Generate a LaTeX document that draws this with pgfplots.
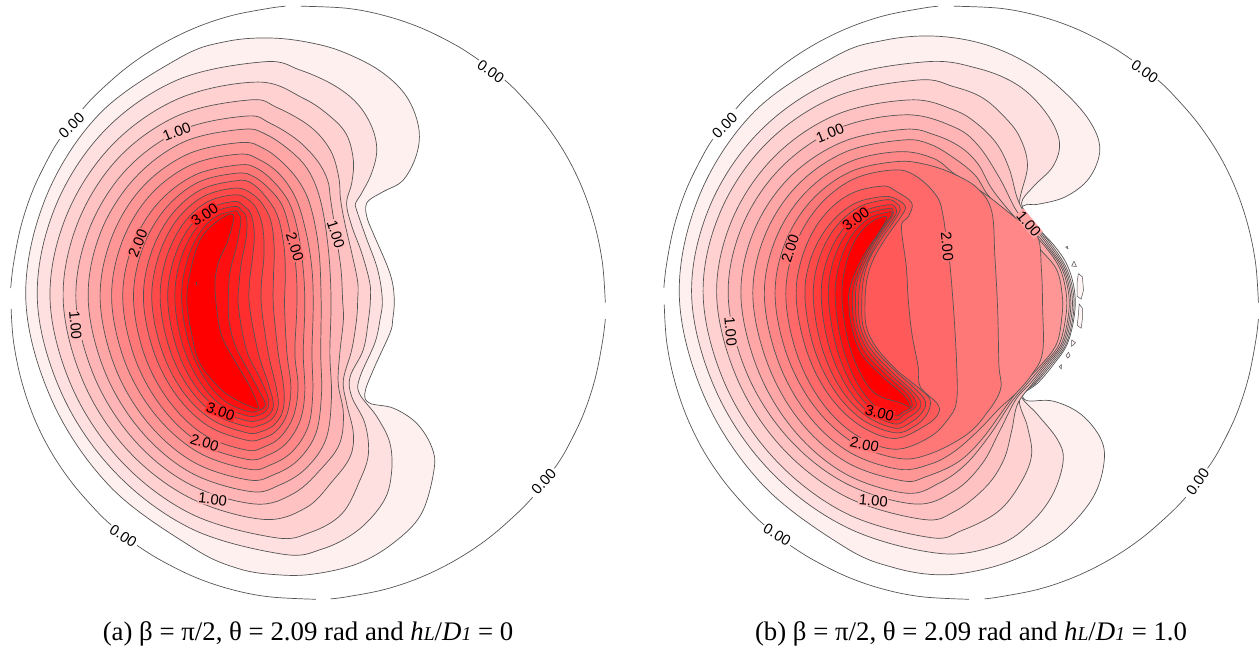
\documentclass[border=0pt]{standalone}
\usepackage{pgfplots}
\usepackage{fontspec}
\pgfplotsset{compat=1.18}
\setmainfont{Liberation Serif}
\newfontfamily\labfont{Liberation Sans}
\definecolor{cl}{gray}{0.33}
\pgfplotsset{panel/.style={hide axis,clip=false,scale only axis,width=310pt,height=324.5pt,
  xmin=0,xmax=1560,ymin=0,ymax=1566,y dir=reverse,anchor=south west}}
\tikzset{lab/.style={font=\labfont\fontsize{7.4}{8}\selectfont,inner sep=0.3pt,text=black}}
\newcommand\lev[2]{\addplot[line width=0.35pt,draw=cl,fill=red!#1!white,smooth cycle,tension=0.6] coordinates {#2};}
\newcommand\seg[1]{\addplot[line width=0.35pt,draw=cl,smooth,tension=0.6] coordinates {#1};}
\newcommand\isl[1]{\addplot[line width=0.25pt,draw=cl,fill=red!4!white,sharp plot] coordinates {#1};}
\newcommand\lb[4]{\node[lab,fill=#1,rotate=#2] at (axis cs:#3) {#4};}
\begin{document}
\begin{tikzpicture}
\path[use as bounding box] (0,0) rectangle (630pt,324.5pt);
\begin{axis}[panel,at={(0pt,0pt)}]
\seg{(757,15)(873,20)(969,38)(1061,68)(1149,110)(1205,145)}
\seg{(1270,193)(1304,224)(1368,294)(1423,372)(1466,456)(1497,545)(1516,636)(1523,730)}
\seg{(1523,770)(1516,824)(1497,915)(1466,1004)(1423,1088)(1395,1130)}
\seg{(1340,1200)(1304,1236)(1230,1298)(1149,1350)(1061,1392)(969,1422)(873,1440)(832,1445)}
\seg{(795,1446)(677,1440)(581,1422)(489,1392)(401,1350)(345,1316)}
\seg{(280,1267)(246,1236)(182,1166)(127,1088)(84,1004)(53,915)(34,824)(28,745)}
\seg{(27,695)(34,636)(53,545)(84,456)(127,372)(150,336)}
\seg{(208,263)(246,224)(320,162)(401,110)(489,68)(581,38)(677,20)(718,15)}
\lev{6}{(690,92)(805,108)(889,136)(965,177)(1023,233)(1053,305)(1049,370)(1015,434)(965,462)(930,482)(920,500)(925,530)(939,563)(981,659)(992,720)(988,772)(981,804)(939,893)(918,949)(931,973)(990,985)(1048,1021)(1086,1078)(1092,1134)(1060,1240)(990,1310)(900,1360)(790,1385)(700,1387)(600,1372)(484,1321)(278,1175)(132,969)(65,724)(113,482)(248,277)(451,140)(570,100)}
\lev{12}{(665,149)(755,169)(839,205)(898,249)(935,305)(948,362)(935,418)(910,466)(895,490)(897,506)(920,570)(950,650)(962,723)(956,772)(943,828)(906,909)(904,949)(948,1005)(981,1069)(985,1142)(965,1210)(900,1280)(810,1325)(710,1337)(482,1276)(291,1141)(156,951)(94,724)(137,504)(261,317)(446,193)}
\lev{18}{(650,198)(763,237)(831,281)(872,325)(889,386)(885,442)(872,490)(885,545)(910,610)(930,680)(932,723)(927,772)(914,844)(881,909)(885,957)(918,1021)(927,1094)(906,1158)(860,1240)(780,1285)(690,1297)(481,1240)(306,1114)(182,936)(126,724)(166,523)(280,352)(449,238)}
\lev{24}{(630,241)(696,259)(780,305)(831,362)(852,426)(857,482)(868,540)(885,610)(900,680)(900,723)(897,772)(885,844)(864,917)(872,973)(889,1045)(881,1102)(839,1158)(770,1225)(660,1253)(475,1200)(319,1084)(209,920)(159,724)(195,539)(297,382)(450,278)}
\lev{29}{(620,280)(679,297)(747,337)(797,386)(824,434)(832,482)(845,565)(858,650)(862,723)(864,772)(855,852)(851,925)(864,997)(855,1069)(813,1126)(740,1190)(640,1216)(474,1167)(335,1059)(236,906)(191,724)(224,554)(317,410)(456,314)}
\lev{35}{(610,312)(671,325)(738,370)(780,418)(808,490)(826,600)(833,723)(830,852)(834,960)(820,1060)(770,1130)(704,1170)(630,1186)(479,1140)(353,1038)(263,895)(222,724)(251,566)(336,433)(461,343)}
\lev{41}{(605,344)(663,358)(713,394)(755,442)(782,500)(802,600)(808,723)(807,852)(809,950)(795,1045)(750,1110)(690,1145)(625,1158)(487,1115)(371,1019)(289,885)(252,724)(279,578)(355,455)(470,373)}
\lev{47}{(600,372)(654,386)(705,422)(745,480)(770,560)(785,650)(788,740)(785,852)(787,950)(775,1030)(735,1090)(680,1122)(625,1132)(498,1091)(391,1001)(315,875)(281,724)(305,589)(374,475)(478,399)}
\lev{53}{(600,398)(646,406)(690,440)(728,490)(750,560)(763,650)(767,740)(763,852)(767,945)(755,1015)(720,1070)(670,1100)(620,1108)(505,1070)(409,985)(340,866)(309,724)(331,599)(394,494)(489,423)}
\lev{59}{(595,418)(638,426)(680,458)(712,500)(732,570)(745,650)(747,740)(742,852)(750,935)(738,1005)(705,1055)(665,1078)(620,1086)(515,1050)(427,970)(364,858)(336,724)(356,607)(412,508)(496,441)}
\lev{65}{(595,436)(633,442)(668,474)(698,520)(714,590)(718,660)(716,740)(722,852)(732,935)(722,1000)(695,1040)(660,1058)(620,1062)(524,1028)(444,954)(387,849)(361,724)(379,614)(430,520)(505,458)}
\lev{71}{(590,454)(630,465)(660,492)(682,535)(690,600)(688,670)(688,740)(700,852)(714,935)(712,990)(690,1025)(655,1042)(620,1044)(532,1012)(458,942)(406,842)(382,724)(398,621)(443,533)(510,475)}
\lev{76}{(590,470)(625,482)(648,508)(662,555)(664,620)(658,680)(658,740)(675,852)(695,935)(700,980)(685,1010)(655,1026)(620,1029)(540,999)(472,931)(425,837)(403,724)(417,627)(458,544)(518,489)}
\lev{82}{(590,486)(615,498)(632,518)(640,565)(635,625)(628,680)(628,740)(650,852)(675,925)(688,975)(678,1000)(655,1013)(620,1015)(547,986)(485,922)(442,832)(422,724)(435,633)(471,556)(526,504)}
\lev{88}{(590,498)(608,508)(620,525)(620,570)(608,630)(602,680)(600,740)(620,844)(654,912)(675,960)(672,988)(650,1002)(620,1003)(553,975)(498,914)(458,827)(440,724)(451,637)(484,564)(533,515)}
\lev{94}{(590,509)(600,515)(606,535)(595,595)(580,650)(575,700)(576,772)(593,836)(628,900)(656,950)(668,978)(652,990)(625,993)(563,966)(511,907)(474,824)(457,724)(467,642)(496,572)(539,525)}
\lev{100}{(587,518)(574,579)(549,635)(541,691)(549,772)(562,820)(595,877)(629,933)(650,980)(641,985)(595,965)(553,937)(503,877)(483,810)(470,724)(480,650)(504,578)(545,535)}
\addplot[line width=0.3pt,draw=cl,sharp plot] coordinates {(495,680)(495,688)};
\lb{white}{44}{180,303}{0.00}
\lb{white}{-35}{1235,172}{0.00}
\lb{white}{48}{1368,1162}{0.00}
\lb{white}{-33}{310,1293}{0.00}
\lb{red!27!white}{22}{445,318}{1.00}
\lb{red!27!white}{-85}{190,785}{1.00}
\lb{red!27!white}{-72}{845,565}{1.00}
\lb{red!27!white}{-6}{535,1205}{1.00}
\lb{red!55!white}{68}{347,587}{2.00}
\lb{red!55!white}{-72}{742,595}{2.00}
\lb{red!55!white}{-18}{515,1068}{2.00}
\lb{red!85!white}{34}{515,518}{3.00}
\lb{red!85!white}{-20}{555,993}{3.00}
\node at (axis cs:775,1530) {\fontsize{13.4}{15}\selectfont (a) β = π/2, θ = 2.09 rad and \textit{h}{\fontsize{9.8}{11}\selectfont\textit{L}}/\textit{D}{\fontsize{9.8}{11}\selectfont\textit{1}} = 0};
\end{axis}
\begin{axis}[panel,at={(320pt,0pt)}]
\seg{(790,15)(906,20)(1002,38)(1094,68)(1182,110)(1238,145)}
\seg{(1303,193)(1337,224)(1401,294)(1456,372)(1499,456)(1530,545)(1549,636)(1556,730)}
\seg{(1556,770)(1549,824)(1530,915)(1499,1004)(1456,1088)(1428,1130)}
\seg{(1373,1200)(1337,1236)(1263,1298)(1182,1350)(1094,1392)(1002,1422)(906,1440)(867,1445)}
\seg{(828,1446)(710,1440)(614,1422)(522,1392)(434,1350)(378,1316)}
\seg{(313,1267)(279,1236)(215,1166)(160,1088)(117,1004)(86,915)(67,824)(61,735)}
\seg{(60,695)(67,636)(86,545)(117,456)(160,372)(183,336)}
\seg{(241,263)(279,224)(353,162)(434,110)(522,68)(614,38)(710,20)(750,15)}
\lev{6}{(738,87)(860,105)(970,150)(1060,215)(1130,290)(1157,360)(1130,430)(1070,475)(1000,493)(975,493)(960,505)(990,540)(1040,590)(1075,640)(1093,700)(1093,760)(1075,830)(1040,880)(1000,925)(965,950)(975,967)(1040,968)(1110,1000)(1160,1060)(1167,1120)(1140,1200)(1070,1280)(990,1330)(880,1370)(760,1387)(640,1370)(515,1320)(311,1172)(165,964)(99,716)(148,475)(286,271)(493,135)(615,97)}
\lev{12}{(720,149)(850,165)(950,205)(1020,270)(1055,340)(1040,400)(990,450)(960,490)(985,530)(1035,590)(1072,645)(1090,705)(1090,760)(1072,830)(1035,880)(995,925)(960,955)(1000,1000)(1050,1060)(1065,1110)(1040,1190)(985,1260)(900,1315)(750,1335)(521,1273)(328,1137)(192,945)(130,716)(175,499)(303,315)(494,192)}
\lev{18}{(700,193)(789,209)(860,235)(915,280)(955,330)(975,400)(955,490)(982,530)(1030,590)(1068,645)(1086,705)(1086,760)(1068,830)(1030,880)(992,925)(955,965)(975,1030)(985,1100)(955,1170)(900,1235)(810,1280)(730,1297)(519,1239)(342,1111)(216,931)(159,716)(200,516)(318,346)(493,233)}
\lev{24}{(680,241)(789,265)(850,300)(900,350)(930,410)(950,480)(978,530)(1025,590)(1064,645)(1082,705)(1082,760)(1064,830)(1025,880)(988,925)(950,975)(935,1040)(915,1110)(870,1175)(790,1235)(710,1253)(519,1199)(358,1081)(245,915)(193,716)(230,534)(336,380)(493,277)}
\lev{29}{(670,277)(789,306)(850,350)(905,430)(945,505)(975,540)(1020,590)(1060,645)(1078,705)(1078,760)(1060,830)(1020,880)(982,925)(945,965)(905,1040)(860,1120)(790,1185)(690,1216)(517,1166)(372,1056)(269,901)(222,716)(256,548)(353,406)(498,310)}
\lev{35}{(665,312)(740,325)(805,354)(850,395)(885,455)(935,515)(968,545)(1015,590)(1055,645)(1072,705)(1072,760)(1055,830)(1015,880)(975,925)(935,970)(880,1050)(820,1120)(754,1165)(670,1190)(516,1143)(387,1038)(296,891)(254,716)(285,561)(374,430)(508,343)}
\lev{41}{(660,338)(730,348)(797,386)(845,425)(875,470)(930,530)(960,555)(1005,600)(1048,650)(1062,710)(1062,760)(1048,830)(1005,885)(965,925)(925,975)(860,1060)(800,1115)(720,1150)(660,1160)(521,1116)(404,1018)(322,880)(284,716)(313,571)(394,449)(516,367)}
\lev{47}{(650,366)(738,382)(789,418)(840,450)(885,480)(950,530)(1000,570)(1010,650)(1013,740)(1013,850)(985,905)(945,950)(905,985)(850,1040)(790,1090)(730,1120)(650,1132)(525,1090)(421,999)(347,870)(313,716)(339,582)(412,469)(521,393)}
\lev{53}{(645,390)(720,397)(790,420)(850,455)(885,510)(893,620)(900,750)(903,880)(907,940)(870,1000)(820,1050)(730,1095)(650,1106)(535,1067)(439,981)(371,860)(340,716)(363,591)(429,486)(528,415)}
\lev{59}{(640,410)(696,426)(747,474)(763,523)(773,595)(780,640)(790,760)(797,885)(797,965)(780,1005)(730,1054)(640,1084)(539,1047)(454,966)(394,852)(367,716)(388,599)(447,500)(535,433)}
\lev{65}{(610,449)(645,462)(684,490)(675,523)(658,547)(670,643)(675,724)(684,804)(700,885)(705,933)(747,973)(751,997)(721,1025)(640,1058)(549,1024)(472,949)(418,843)(393,716)(410,614)(457,527)(527,469)}
\lev{71}{(615,474)(650,483)(668,500)(655,525)(625,565)(590,620)(572,670)(566,730)(570,790)(596,840)(646,893)(700,935)(730,965)(721,1001)(688,1030)(640,1044)(557,1011)(487,939)(437,837)(415,716)(430,623)(474,545)(538,492)}
\lev{76}{(620,482)(645,490)(655,505)(640,532)(612,570)(580,620)(563,670)(558,730)(562,790)(588,840)(640,893)(692,938)(718,968)(710,995)(680,1020)(640,1033)(565,1001)(501,932)(456,833)(436,716)(450,626)(490,551)(550,500)}
\lev{82}{(625,494)(642,500)(645,515)(628,540)(600,578)(572,630)(555,675)(550,730)(555,790)(581,843)(633,897)(684,942)(706,970)(700,990)(672,1010)(640,1023)(572,992)(515,925)(474,830)(456,716)(469,631)(506,559)(560,511)}
\lev{88}{(625,503)(636,508)(636,520)(618,545)(590,585)(564,635)(546,680)(542,730)(548,790)(574,846)(626,900)(678,945)(695,972)(690,985)(665,1000)(640,1013)(579,983)(527,918)(491,826)(474,716)(485,634)(518,565)(567,519)}
\lev{94}{(629,511)(633,518)(625,530)(607,555)(580,595)(555,643)(538,690)(534,730)(541,790)(566,850)(620,905)(672,950)(685,975)(680,985)(660,995)(640,1003)(585,974)(539,911)(506,822)(491,716)(501,638)(531,571)(576,527)}
\lev{100}{(621,523)(600,563)(570,605)(545,650)(528,695)(525,730)(533,790)(558,855)(612,910)(665,955)(680,982)(655,972)(591,949)(550,892)(521,812)(508,716)(517,642)(541,580)(578,538)}
\isl{(1071,597)(1075,594)(1077,600)(1071,597)}
\isl{(1086,642)(1092,630)(1098,643)(1086,642)}
\isl{(1103,660)(1113,668)(1116,700)(1110,722)(1100,715)(1100,680)(1103,660)}
\isl{(1105,733)(1114,745)(1113,770)(1110,792)(1100,785)(1103,760)(1105,733)}
\isl{(1086,820)(1096,827)(1086,836)(1086,820)}
\isl{(1072,858)(1078,850)(1082,858)(1076,864)(1072,858)}
\isl{(1055,885)(1060,880)(1060,890)(1055,885)}
\lb{white}{45}{213,303}{0.00}
\lb{white}{-35}{1270,172}{0.00}
\lb{white}{55}{1403,1162}{0.00}
\lb{white}{-30}{345,1290}{0.00}
\lb{red!27!white}{22}{478,322}{1.00}
\lb{red!27!white}{-85}{228,800}{1.00}
\lb{red!36!white}{-50}{978,540}{1.00}
\lb{red!27!white}{-5}{587,1208}{1.00}
\lb{red!55!white}{72}{378,600}{2.00}
\lb{red!55!white}{-85}{773,595}{2.00}
\lb{red!55!white}{-12}{565,1073}{2.00}
\lb{red!85!white}{36}{543,528}{3.00}
\lb{red!85!white}{-15}{603,997}{3.00}
\node at (axis cs:833,1530) {\fontsize{13.4}{15}\selectfont (b) β = π/2, θ = 2.09 rad and \textit{h}{\fontsize{9.8}{11}\selectfont\textit{L}}/\textit{D}{\fontsize{9.8}{11}\selectfont\textit{1}} = 1.0};
\end{axis}
\end{tikzpicture}
\end{document}
